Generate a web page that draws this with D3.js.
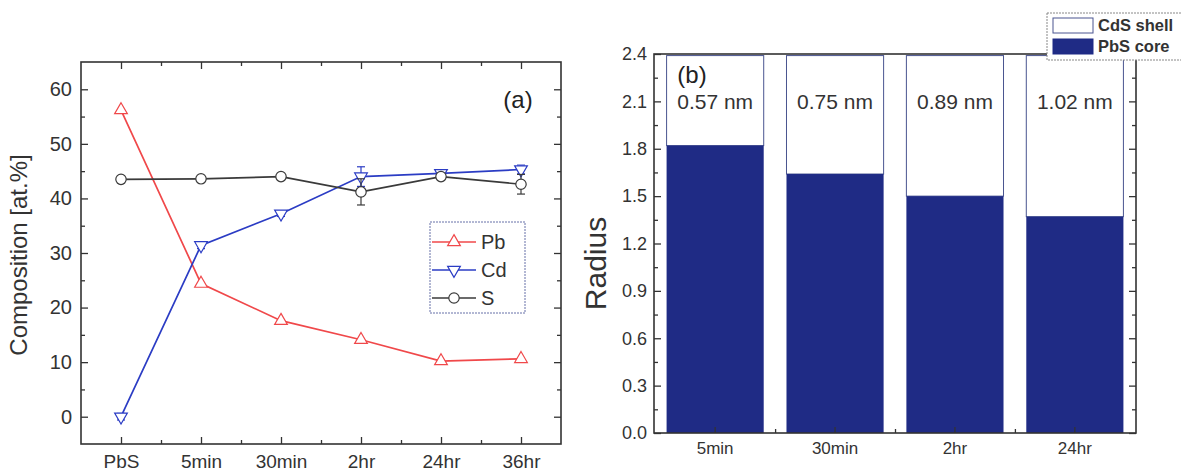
<!DOCTYPE html>
<html>
<head>
<meta charset="utf-8">
<script src="https://cdn.jsdelivr.net/npm/d3@7"></script>
<style>
  body { margin: 0; background: #fff; }
  svg { display: block; font-family: Arial, "Liberation Sans", sans-serif; }
</style>
</head>
<body>
<svg id="chart"></svg>
<script>
// ---- panel (a) data ----
var samples = ["PbS", "5min", "30min", "2hr", "24hr", "36hr"];
var pbValues = [56.2, 24.4, 17.6, 14.1, 10.2, 10.6];
var cdValues = [0, 31.4, 37.2, 44.0, 44.6, 45.3];
var sValues = [43.5, 43.6, 44.0, 41.2, 44.0, 42.6];
var cdErrors = [0.6, 0.6, 0.5, 1.8, 0.5, 0.8];
var sErrors = [0.6, 0.6, 0.5, 2.4, 0.5, 1.8];
var compTicks = [0, 10, 20, 30, 40, 50, 60];

// ---- panel (b) data ----
var times = ["5min", "30min", "2hr", "24hr"];
var coreRadius = [1.82, 1.64, 1.50, 1.37];
var shellThickness = [0.57, 0.75, 0.89, 1.02];
var shellLabels = ["0.57 nm", "0.75 nm", "0.89 nm", "1.02 nm"];
var radiusTicks = [0, 0.3, 0.6, 0.9, 1.2, 1.5, 1.8, 2.1, 2.4];

var textColor = "#333";
var axisColor = "#333";
var pbColor = "#f0484a";
var cdColor = "#2b3cc4";
var sColor = "#3a3a3a";
var coreColor = "#1f2b85";

var svg = d3.select("#chart").attr("width", 1181).attr("height", 472);
svg.append("rect").attr("width", 1181).attr("height", 472).attr("fill", "#fff");

// =================== panel (a) ===================
var ma = { left: 81, right: 561, top: 62, bottom: 444 };
var xA = d3.scaleLinear().domain([-0.5, 5.5]).range([ma.left, ma.right]);
var yA = d3.scaleLinear().domain([-5, 65]).range([ma.bottom, ma.top]);

var pa = svg.append("g").attr("class", "panel-a");

function styleAxis(g, fs) {
    g.select(".domain").remove();
    g.selectAll(".tick line").attr("stroke", axisColor).attr("stroke-width", 1.3);
    g.selectAll(".tick text").attr("fill", textColor).style("font-size", fs + "px");
}

var idx = d3.range(samples.length);
var minorX = d3.range(-0.5, 5.51, 1).filter(function (v) { return v > -0.5 && v < 5.5; });
var minorY = d3.range(-5, 65, 10).filter(function (v) { return v > -5; });

// bottom
pa.append("g").attr("transform", "translate(0," + ma.bottom + ")")
    .call(d3.axisBottom(xA).tickValues(idx).tickSize(-7).tickPadding(11)
        .tickFormat(function (i) { return samples[i]; }))
    .call(styleAxis, 19);
pa.append("g").attr("transform", "translate(0," + ma.bottom + ")")
    .call(d3.axisBottom(xA).tickValues(minorX).tickSize(-4).tickFormat(""))
    .call(styleAxis, 19);
// top
pa.append("g").attr("transform", "translate(0," + ma.top + ")")
    .call(d3.axisTop(xA).tickValues(idx).tickSize(-7).tickFormat(""))
    .call(styleAxis, 19);
pa.append("g").attr("transform", "translate(0," + ma.top + ")")
    .call(d3.axisTop(xA).tickValues(minorX).tickSize(-4).tickFormat(""))
    .call(styleAxis, 19);
// left
pa.append("g").attr("transform", "translate(" + ma.left + ",0)")
    .call(d3.axisLeft(yA).tickValues(compTicks).tickSize(-7).tickPadding(9))
    .call(styleAxis, 20);
pa.append("g").attr("transform", "translate(" + ma.left + ",0)")
    .call(d3.axisLeft(yA).tickValues(minorY).tickSize(-4).tickFormat(""))
    .call(styleAxis, 19);
// right
pa.append("g").attr("transform", "translate(" + ma.right + ",0)")
    .call(d3.axisRight(yA).tickValues(compTicks).tickSize(-7).tickFormat(""))
    .call(styleAxis, 19);
pa.append("g").attr("transform", "translate(" + ma.right + ",0)")
    .call(d3.axisRight(yA).tickValues(minorY).tickSize(-4).tickFormat(""))
    .call(styleAxis, 19);

pa.append("rect")
    .attr("x", ma.left).attr("y", ma.top)
    .attr("width", ma.right - ma.left).attr("height", ma.bottom - ma.top)
    .attr("fill", "none").attr("stroke", axisColor).attr("stroke-width", 1.6);

pa.append("text")
    .attr("transform", "translate(27," + ((ma.top + ma.bottom) / 2 + 2) + ") rotate(-90)")
    .attr("text-anchor", "middle")
    .attr("fill", textColor)
    .style("font-size", "24px")
    .text("Composition [at.%]");

pa.append("text")
    .attr("x", 518).attr("y", 108)
    .attr("text-anchor", "middle")
    .attr("fill", "#222")
    .style("font-size", "24px")
    .text("(a)");

var lineA = d3.line()
    .x(function (d, i) { return xA(i); })
    .y(function (d) { return yA(d); });

var upTri = d3.symbol().type(d3.symbolTriangle).size(70);
var circ = d3.symbol().type(d3.symbolCircle).size(85);

var series = [
    { name: "Pb", values: pbValues, errors: null, color: pbColor, marker: "up" },
    { name: "Cd", values: cdValues, errors: cdErrors, color: cdColor, marker: "down" },
    { name: "S", values: sValues, errors: sErrors, color: sColor, marker: "circle" }
];

function markerPath(m) {
    return m === "circle" ? circ() : upTri();
}
function markerRot(m) {
    return m === "down" ? " rotate(180)" : "";
}

series.forEach(function (s) {
    pa.append("path")
        .attr("d", lineA(s.values))
        .attr("fill", "none")
        .attr("stroke", s.color)
        .attr("stroke-width", 1.7);
});

series.forEach(function (s) {
    var g = pa.append("g");
    if (s.errors) {
        s.values.forEach(function (v, i) {
            var e = s.errors[i];
            var x = xA(i);
            g.append("line").attr("x1", x).attr("x2", x)
                .attr("y1", yA(v - e)).attr("y2", yA(v + e))
                .attr("stroke", s.color).attr("stroke-width", 1.2);
            [v - e, v + e].forEach(function (yy) {
                g.append("line").attr("x1", x - 4).attr("x2", x + 4)
                    .attr("y1", yA(yy)).attr("y2", yA(yy))
                    .attr("stroke", s.color).attr("stroke-width", 1.2);
            });
        });
    }
    g.selectAll("path.mk")
        .data(s.values)
        .enter().append("path")
        .attr("class", "mk")
        .attr("d", markerPath(s.marker))
        .attr("transform", function (d, i) {
            return "translate(" + xA(i) + "," + yA(d) + ")" + markerRot(s.marker);
        })
        .attr("fill", "#fff")
        .attr("stroke", s.color)
        .attr("stroke-width", 1.2);
});

// legend (a)
var lgA = pa.append("g");
lgA.append("rect")
    .attr("x", 430).attr("y", 222).attr("width", 95).attr("height", 91)
    .attr("fill", "#fff")
    .attr("stroke", "#6670a8").attr("stroke-width", 1)
    .attr("stroke-dasharray", "2,1");
series.forEach(function (s, i) {
    var yy = 242 + i * 28;
    lgA.append("line").attr("x1", 432).attr("x2", 476)
        .attr("y1", yy).attr("y2", yy)
        .attr("stroke", s.color).attr("stroke-width", 1.6);
    lgA.append("path")
        .attr("d", markerPath(s.marker))
        .attr("transform", "translate(454," + yy + ")" + markerRot(s.marker))
        .attr("fill", "#fff").attr("stroke", s.color).attr("stroke-width", 1.2);
    lgA.append("text")
        .attr("x", 481).attr("y", yy + 7)
        .attr("fill", textColor)
        .style("font-size", "20px")
        .text(s.name);
});

// =================== panel (b) ===================
var mb = { left: 654, right: 1136, top: 54, bottom: 433 };
var xB = d3.scaleBand().domain(times).range([mb.left, mb.right])
    .paddingInner(0.19).paddingOuter(0.105);
var yB = d3.scaleLinear().domain([0, 2.4]).range([mb.bottom, mb.top]);

var pb = svg.append("g").attr("class", "panel-b");

var bars = pb.selectAll("g.bar")
    .data(times)
    .enter().append("g").attr("class", "bar");

bars.append("rect")
    .attr("x", function (d) { return xB(d); })
    .attr("width", xB.bandwidth())
    .attr("y", function (d, i) { return yB(coreRadius[i] + shellThickness[i]); })
    .attr("height", function (d, i) { return yB(coreRadius[i]) - yB(coreRadius[i] + shellThickness[i]); })
    .attr("fill", "#fff")
    .attr("stroke", "#4a5590")
    .attr("stroke-width", 1);

bars.append("rect")
    .attr("x", function (d) { return xB(d); })
    .attr("width", xB.bandwidth())
    .attr("y", function (d, i) { return yB(coreRadius[i]); })
    .attr("height", function (d, i) { return yB(0) - yB(coreRadius[i]); })
    .attr("fill", coreColor);

bars.append("text")
    .attr("x", function (d) { return xB(d) + xB.bandwidth() / 2; })
    .attr("y", yB(2.1) + 8)
    .attr("text-anchor", "middle")
    .attr("fill", textColor)
    .style("font-size", "21px")
    .text(function (d, i) { return shellLabels[i]; });

var centers = times.map(function (t) { return xB(t) + xB.bandwidth() / 2; });
var step = xB.step();
var bounds = centers.slice(0, -1).map(function (c) { return c + step / 2; });
var minorB = d3.range(0.15, 2.4, 0.3);

var xPos = d3.scaleLinear().domain([mb.left, mb.right]).range([mb.left, mb.right]);

pb.append("g").attr("transform", "translate(0," + mb.bottom + ")")
    .call(d3.axisBottom(xB).tickSize(-6).tickPadding(9))
    .call(styleAxis, 17);
pb.append("g").attr("transform", "translate(0," + mb.bottom + ")")
    .call(d3.axisBottom(xPos).tickValues(bounds).tickSize(-4).tickFormat(""))
    .call(styleAxis, 17);
pb.append("g").attr("transform", "translate(" + mb.left + ",0)")
    .call(d3.axisLeft(yB).tickValues(radiusTicks).tickSize(-7).tickPadding(7)
        .tickFormat(d3.format(".1f")))
    .call(styleAxis, 18);
pb.append("g").attr("transform", "translate(" + mb.left + ",0)")
    .call(d3.axisLeft(yB).tickValues(minorB).tickSize(-4).tickFormat(""))
    .call(styleAxis, 17);
pb.append("g").attr("transform", "translate(" + mb.right + ",0)")
    .call(d3.axisRight(yB).tickValues(radiusTicks).tickSize(-7).tickFormat(""))
    .call(styleAxis, 17);
pb.append("g").attr("transform", "translate(" + mb.right + ",0)")
    .call(d3.axisRight(yB).tickValues(minorB).tickSize(-4).tickFormat(""))
    .call(styleAxis, 17);

pb.append("rect")
    .attr("x", mb.left).attr("y", mb.top)
    .attr("width", mb.right - mb.left).attr("height", mb.bottom - mb.top)
    .attr("fill", "none").attr("stroke", axisColor).attr("stroke-width", 1.6);

pb.append("text")
    .attr("transform", "translate(606," + ((mb.top + mb.bottom) / 2 + 20) + ") rotate(-90)")
    .attr("text-anchor", "middle")
    .attr("fill", textColor)
    .style("font-size", "30px")
    .text("Radius");

pb.append("text")
    .attr("x", 692).attr("y", 83)
    .attr("text-anchor", "middle")
    .attr("fill", "#222")
    .style("font-size", "24px")
    .text("(b)");

// legend (b)
var lgB = pb.append("g");
lgB.append("rect")
    .attr("x", 1047).attr("y", 13).attr("width", 140).attr("height", 47)
    .attr("fill", "#fff")
    .attr("stroke", "#888").attr("stroke-width", 1)
    .attr("stroke-dasharray", "2,1");
var legendB = [
    { label: "CdS shell", fill: "#fff", stroke: "#4a5590" },
    { label: "PbS core", fill: coreColor, stroke: coreColor }
];
legendB.forEach(function (l, i) {
    var yy = 18 + i * 21;
    lgB.append("rect")
        .attr("x", 1053).attr("y", yy).attr("width", 40).attr("height", 15)
        .attr("fill", l.fill).attr("stroke", l.stroke).attr("stroke-width", 1);
    lgB.append("text")
        .attr("x", 1098).attr("y", yy + 13)
        .attr("fill", textColor)
        .style("font-size", "16.5px")
        .style("font-weight", "bold")
        .text(l.label);
});
</script>
</body>
</html>
